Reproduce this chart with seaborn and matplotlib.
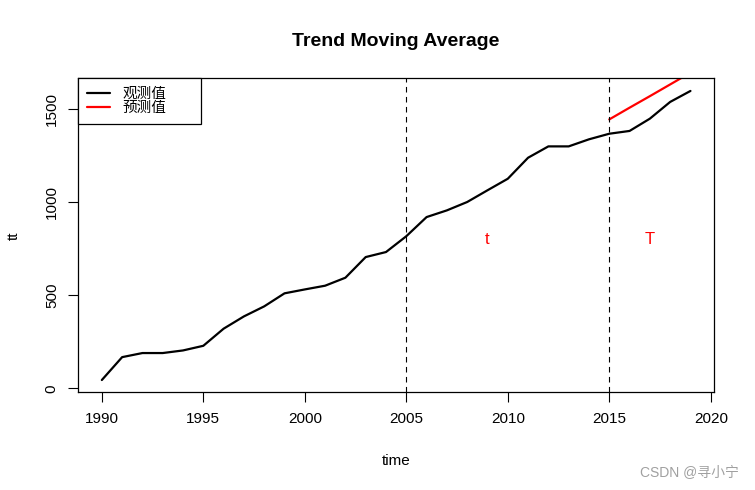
import seaborn as sns
import numpy as np
import pandas as pd
import matplotlib
matplotlib.use("Agg")
import matplotlib.pyplot as plt

years = list(range(1990, 2020))
observed = [45, 168, 190, 190, 204, 229, 321, 387, 441, 511,
            532, 552, 595, 706, 733, 818, 921, 957, 1002, 1065,
            1127, 1240, 1301, 1301, 1339, 1369, 1384, 1450, 1540, 1599]

# forecast (moving average trend) for the test window
pred_years = [2015, 2016, 2017, 2018, 2019]
predicted = [1446, 1509, 1571, 1634, 1697]

split_years = [2005, 2015]
region_labels = ["t", "T"]
region_label_x = [2009, 2017]
region_label_y = [800, 800]

sns.set_style("white")
plt.rcParams['font.family'] = ['Liberation Sans', 'Noto Sans CJK SC', 'DejaVu Sans']
for k in ["text.color", "axes.labelcolor", "xtick.color", "ytick.color"]:
    plt.rcParams[k] = "black"

obs_df = pd.DataFrame({"time": years, "tt": observed})
pred_df = pd.DataFrame({"time": pred_years, "tt": predicted})

fig = plt.figure(figsize=(7.55, 4.9), dpi=100)
ax = fig.add_axes([0.1037, 0.1994, 0.9457 - 0.1037, 0.8402 - 0.1994])

sns.lineplot(data=obs_df, x="time", y="tt", color="black", lw=1.6, ax=ax, label="观测值")
sns.lineplot(data=pred_df, x="time", y="tt", color="red", lw=1.6, ax=ax, label="预测值")

for xv in split_years:
    ax.axvline(xv, color="black", lw=0.8, ls=(0, (5, 4)))

for lab, xv, yv in zip(region_labels, region_label_x, region_label_y):
    ax.text(xv, yv, lab, color="red", fontsize=12, ha="center", va="center")

ax.set_xlim(1988.84, 2020.16)
ax.set_ylim(-21, 1667)
ax.set_xticks([1990, 1995, 2000, 2005, 2010, 2015, 2020])
ax.set_yticks([0, 500, 1000, 1500])
ax.tick_params(axis="both", direction="out", length=7, width=0.8, color="black",
               labelsize=11, pad=7, bottom=True, left=True)
for t in ax.get_yticklabels():
    t.set_rotation(90)
    t.set_va("center")
    t.set_ha("right")

for s in ax.spines.values():
    s.set_visible(True)
    s.set_color("black")
    s.set_linewidth(0.9)

ax.set_xlabel("time", fontsize=11, labelpad=20)
ax.set_ylabel("tt", fontsize=11, labelpad=17)
ax.set_title("Trend Moving Average", fontsize=14, fontweight="bold", pad=23)

leg = ax.legend(loc="upper left", bbox_to_anchor=(0, 1, 0.1935, 0), mode="expand",
                borderaxespad=0, fancybox=False, framealpha=1,
                edgecolor="black", fontsize=10.5, handlelength=1.6, handletextpad=0.8,
                labelspacing=0.0, borderpad=0.6)
leg.get_frame().set_linewidth(0.9)

fig.text(0.978, 0.035, "CSDN @寻小宁", color="#a0a0a0", fontsize=10, ha="right", va="center")

fig.savefig("out.png", dpi=100)
